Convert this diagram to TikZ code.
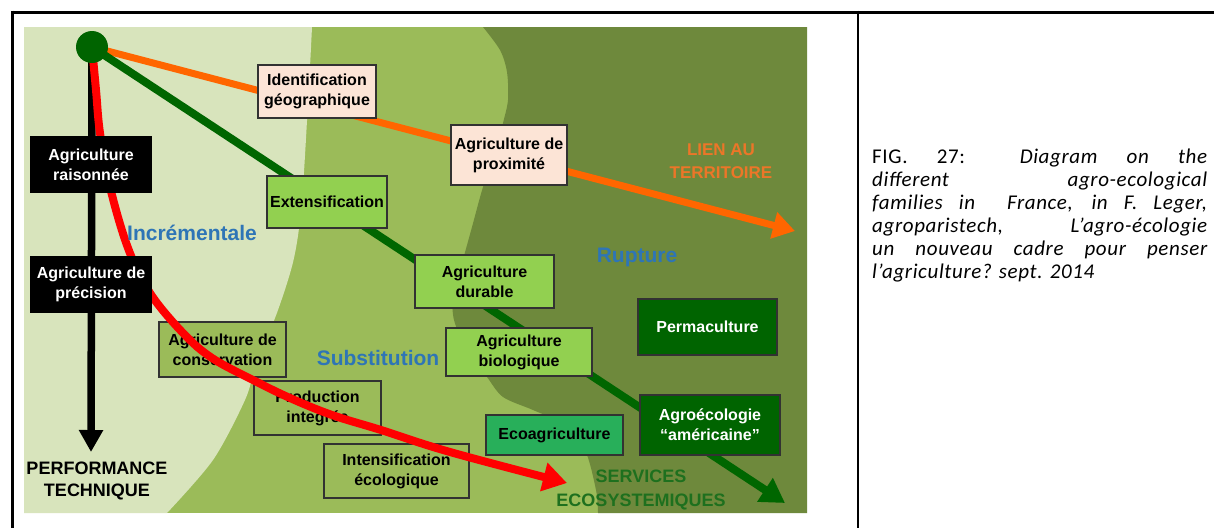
\documentclass[tikz,border=0pt]{standalone}
\usepackage{fontspec}
\setmainfont{Liberation Sans}
\newfontfamily\capfont[LetterSpace=3]{Carlito}
\usetikzlibrary{arrows.meta}
\definecolor{bglight}{RGB}{216,228,188}
\definecolor{bgmid}{RGB}{155,187,89}
\definecolor{bgdark}{RGB}{110,137,60}
\definecolor{peach}{RGB}{252,228,214}
\definecolor{lgreen}{RGB}{146,208,80}
\definecolor{dgreen}{RGB}{0,100,0}
\definecolor{ecog}{RGB}{40,175,90}
\definecolor{lineorange}{RGB}{255,102,0}
\definecolor{linegreen}{RGB}{0,102,0}
\definecolor{linered}{RGB}{255,0,0}
\definecolor{labelblue}{RGB}{46,117,182}
\definecolor{labelorange}{RGB}{236,118,40}
\definecolor{labelgreen}{RGB}{30,112,30}
\definecolor{boxborder}{RGB}{50,50,50}
\pgfdeclarelayer{back}
\pgfdeclarelayer{lines}
\pgfsetlayers{back,lines,main}
\begin{document}
\begin{tikzpicture}[x=1pt,y=-1pt,
  box/.style={draw=boxborder, line width=1.2pt, align=center, inner sep=0pt,
    font=\bfseries\fontsize{16}{20}\selectfont, text=black},
  whitebox/.style={box, text=white},
  biglabel/.style={font=\bfseries\fontsize{21}{25}\selectfont, text=labelblue, inner sep=0pt},
  axislabel/.style={align=center, inner sep=0pt},
  capline/.style={anchor=base west, inner sep=0pt, font=\capfont\fontsize{21}{23}\selectfont},
  arr/.style={line width=#1},
]
\useasboundingbox (0,0) rectangle (1214,528);
\begin{pgfonlayer}{back}
  \fill[white] (0,0) rectangle (1214,528);
  \fill[bgmid] (24,27) rectangle (807,513);
  \fill[bglight] (24,27) -- plot[smooth] coordinates {(312,27) (309,85) (302,200) (294,258) (278,310) (256,365) (245,400) (213,460) (167,513)} -- (24,513) -- cycle;
  \fill[bgdark] (807,27) -- plot[smooth] coordinates {(483,27) (500,50) (507,72) (508,100) (503,123) (496,150) (483,187) (472,227) (462,263) (453,293) (454,320) (467,350) (487,377) (503,397) (533,410) (563,424) (585,450) (596,490) (598,513)} -- (807,513) -- cycle;
  % boxes lying under the red curve
  \node[box, fill=bgmid, minimum width=127pt, minimum height=55pt] (conserv) at (222.5,349.5) {Agriculture de\\conservation};
  \node[box, fill=bgmid, minimum width=127pt, minimum height=54pt] (prod) at (317.5,408) {Production\\integrée};
  \node[box, fill=bgmid, minimum width=145pt, minimum height=54pt] (intens) at (396.5,471) {Intensification\\écologique};
\end{pgfonlayer}

% frame of the table cell
\draw[line width=3pt] (11,12) -- (1214,12);
\draw[line width=3.5pt] (12.5,10.5) -- (12.5,528);
\draw[line width=2.5pt] (858,10.5) -- (858,528);

\coordinate (o) at (92,47);
\coordinate (orangeEnd) at (795,231);
\coordinate (greenEnd) at (785,503);
\coordinate (blackEnd) at (91,452);
\coordinate (redEnd) at (567,483);

\begin{pgfonlayer}{lines}
  \draw[lineorange, arr=7pt, -{Triangle[length=22pt,width=26pt]}] (o) -- (orangeEnd);
  \draw[linegreen, arr=8pt, -{Triangle[length=24pt,width=27pt]}] (o) -- (greenEnd);
  \draw[black, arr=7.5pt, -{Triangle[length=22pt,width=23pt]}] (o) -- (blackEnd);
  \draw[linered, arr=8pt, -{Triangle[length=24pt,width=28pt]}] plot[smooth, tension=0.6] coordinates {(o) (96,90) (100,133) (110,187) (128,248) (150,293) (183,333) (212,358) (253,380) (290,398) (332,415) (381,430) (450,452) (redEnd)};
\end{pgfonlayer}

% boxes
\node[box, fill=peach, minimum width=118pt, minimum height=53pt] (idgeo) at (317,91.5) {Identification\\géographique};
\node[box, fill=peach, minimum width=116pt, minimum height=60pt] (prox) at (509,155) {Agriculture de\\proximité};
\node[whitebox, fill=black, draw=black, minimum width=120pt, minimum height=55pt] (raison) at (91,164.5) {Agriculture\\raisonnée};
\node[whitebox, fill=black, draw=black, minimum width=120pt, minimum height=55pt] (precis) at (91,284.5) {Agriculture de\\précision};
\node[box, fill=lgreen, minimum width=120pt, minimum height=52pt] (extens) at (327,202) {Extensification};
\node[box, fill=lgreen, minimum width=139pt, minimum height=53pt] (durable) at (484.5,281.5) {Agriculture\\durable};
\node[box, fill=lgreen, minimum width=146pt, minimum height=48pt] (bio) at (519,352) {Agriculture\\biologique};
\node[box, fill=ecog, minimum width=137pt, minimum height=40pt] (ecoagri) at (554.5,435) {Ecoagriculture};
\node[whitebox, fill=dgreen, minimum width=139pt, minimum height=56pt] (perma) at (707.5,327) {Permaculture};
\node[whitebox, fill=dgreen, minimum width=140pt, minimum height=60pt] (agroeco) at (710,425) {Agroécologie\\“américaine”};

\node[circle, fill=dgreen, minimum size=32pt, inner sep=0pt] (origin) at (o) {};

% labels
\node[biglabel] (incr) at (192,233) {Incrémentale};
\node[biglabel] (subst) at (378,358) {Substitution};
\node[biglabel] (rupt) at (637,257) {Rupture};
\node[axislabel, font=\bfseries\fontsize{17}{23}\selectfont, text=labelorange] (lien) at (721,161) {LIEN AU\\TERRITOIRE};
\node[axislabel, font=\bfseries\fontsize{18}{24}\selectfont, text=labelgreen] (serv) at (641,490) {SERVICES\\ECOSYSTEMIQUES};
\node[axislabel, font=\bfseries\fontsize{18}{22}\selectfont, text=black] (perf) at (97,481) {PERFORMANCE\\TECHNIQUE};

% caption
\node[capline] (cap1) at (872,163) {\makebox[335pt][s]{FIG. 27: \itshape Diagram on the}};
\node[capline] (cap2) at (872,186) {\makebox[335pt][s]{\itshape different agro-ecological}};
\node[capline] (cap3) at (872,209) {\makebox[335pt][s]{\itshape families in\ \ France, in F. Leger,}};
\node[capline] (cap4) at (872,232) {\makebox[335pt][s]{\itshape agroparistech, L’agro-écologie}};
\node[capline] (cap5) at (872,255) {\makebox[335pt][s]{\itshape un nouveau cadre pour penser}};
\node[capline] (cap6) at (872,278) {\itshape l’agriculture? sept. 2014};
\end{tikzpicture}
\end{document}
